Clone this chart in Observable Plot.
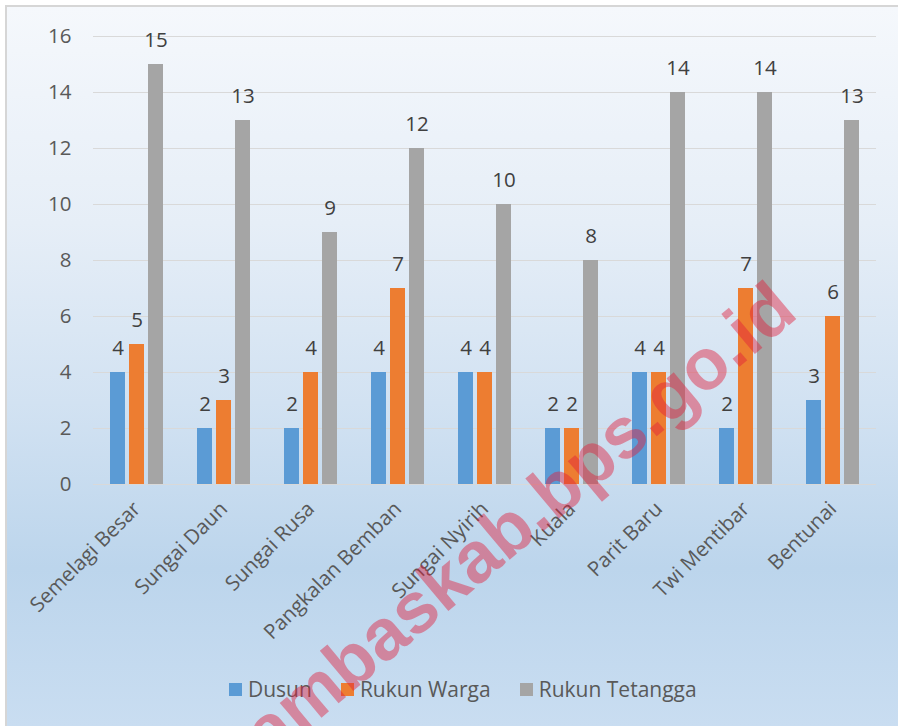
<!DOCTYPE html>
<html>
<head>
<meta charset="utf-8">
<script src="https://cdn.jsdelivr.net/npm/d3@7"></script>
<script src="https://cdn.jsdelivr.net/npm/@observablehq/plot@0.6"></script>
<style>
  html, body { margin: 0; padding: 0; background: #ffffff; }
  #page { position: relative; width: 898px; height: 726px; overflow: hidden; font-family: "Open Sans", sans-serif; }
  #bg { position: absolute; left: 5px; top: 5px; width: 893px; height: 721px; box-sizing: border-box;
        border-left: 2px solid #d6d6d6; border-top: 2px solid #d6d6d6;
        background: linear-gradient(to bottom, #f5f8fc 0%, #e6eef7 30%, #d2e2f2 55%, #bcd5ec 78%, #c9ddf1 100%); }
  #chart { position: absolute; left: 0; top: 0; }
  #legend { position: absolute; left: 229px; top: 675px; display: flex; align-items: center; font-size: 21px; color: #595959; white-space: nowrap; }
  #legend .item { display: flex; align-items: center; margin-right: 29px; }
  #legend .sw { width: 13px; height: 13px; margin-right: 6px; }
  #wm { position: absolute; left: 0; top: 0; pointer-events: none; }
</style>
</head>
<body>
<div id="page">
  <div id="bg"></div>
  <div id="chart"></div>
  <div id="legend"></div>
  <svg id="wm" width="898" height="726"></svg>
</div>
<script>
const villages = ["Semelagi Besar", "Sungai Daun", "Sungai Rusa", "Pangkalan Bemban", "Sungai Nyirih", "Kuala", "Parit Baru", "Twi Mentibar", "Bentunai"];
const seriesNames = ["Dusun", "Rukun Warga", "Rukun Tetangga"];
const dusun = [4, 2, 2, 4, 4, 2, 4, 2, 3];
const rukunWarga = [5, 3, 4, 7, 4, 2, 4, 7, 6];
const rukunTetangga = [15, 13, 9, 12, 10, 8, 14, 14, 13];
const yTicks = [0, 2, 4, 6, 8, 10, 12, 14, 16];
const colors = ["#5b9bd5", "#ed7d31", "#a5a5a5"];

const seriesValues = [dusun, rukunWarga, rukunTetangga];
const data = [];
villages.forEach((v, i) => {
  seriesNames.forEach((s, j) => data.push({village: v, series: s, value: seriesValues[j][i]}));
});

const chart = Plot.plot({
  width: 898,
  height: 660,
  marginTop: 36,
  marginBottom: 176,
  marginLeft: 92,
  marginRight: 21,
  style: {background: "transparent", fontFamily: "Open Sans, sans-serif", color: "#595959", overflow: "visible"},
  fx: {domain: villages, padding: 0, label: null},
  x: {domain: seriesNames, paddingInner: 0.23, paddingOuter: 0.9, axis: null},
  y: {domain: [0, 16], axis: null},
  color: {domain: seriesNames, range: colors},
  marks: [
    Plot.ruleY(yTicks, {stroke: "#d9d9d9", strokeWidth: 1}),
    Plot.barY(data, {fx: "village", x: "series", y: "value", fill: "series"}),
    Plot.text(data, {fx: "village", x: "series", y: "value", text: d => String(d.value), dy: -24, fontSize: 20.5, fill: "#404040"}),
    Plot.axisY({ticks: yTicks, tickSize: 0, tickPadding: 22, fontSize: 20.5, fill: "#595959", label: null}),
    Plot.axisFx({anchor: "bottom", tickRotate: -45, tickSize: 0, tickPadding: 21, fontSize: 20.5, fill: "#595959", label: null})
  ]
});
document.getElementById("chart").appendChild(chart);

const legend = document.getElementById("legend");
seriesNames.forEach((s, i) => {
  const item = document.createElement("div");
  item.className = "item";
  const sw = document.createElement("div");
  sw.className = "sw";
  sw.style.background = colors[i];
  const t = document.createElement("span");
  t.textContent = s;
  item.appendChild(sw); item.appendChild(t);
  legend.appendChild(item);
});

// watermark
const wm = document.getElementById("wm");
const ns = "http://www.w3.org/2000/svg";
const wt = document.createElementNS(ns, "text");
wt.setAttribute("x", 0); wt.setAttribute("y", 0);
wt.setAttribute("transform", "translate(800,316) rotate(-40)");
wt.setAttribute("text-anchor", "end");
wt.setAttribute("font-family", "Liberation Sans, Arial, sans-serif");
wt.setAttribute("font-weight", "bold");
wt.setAttribute("font-size", "72");
wt.setAttribute("fill", "rgb(225,30,60)");
wt.setAttribute("fill-opacity", "0.45");
wt.textContent = "sambaskab.bps.go.id";
wm.appendChild(wt);
</script>
</body>
</html>
